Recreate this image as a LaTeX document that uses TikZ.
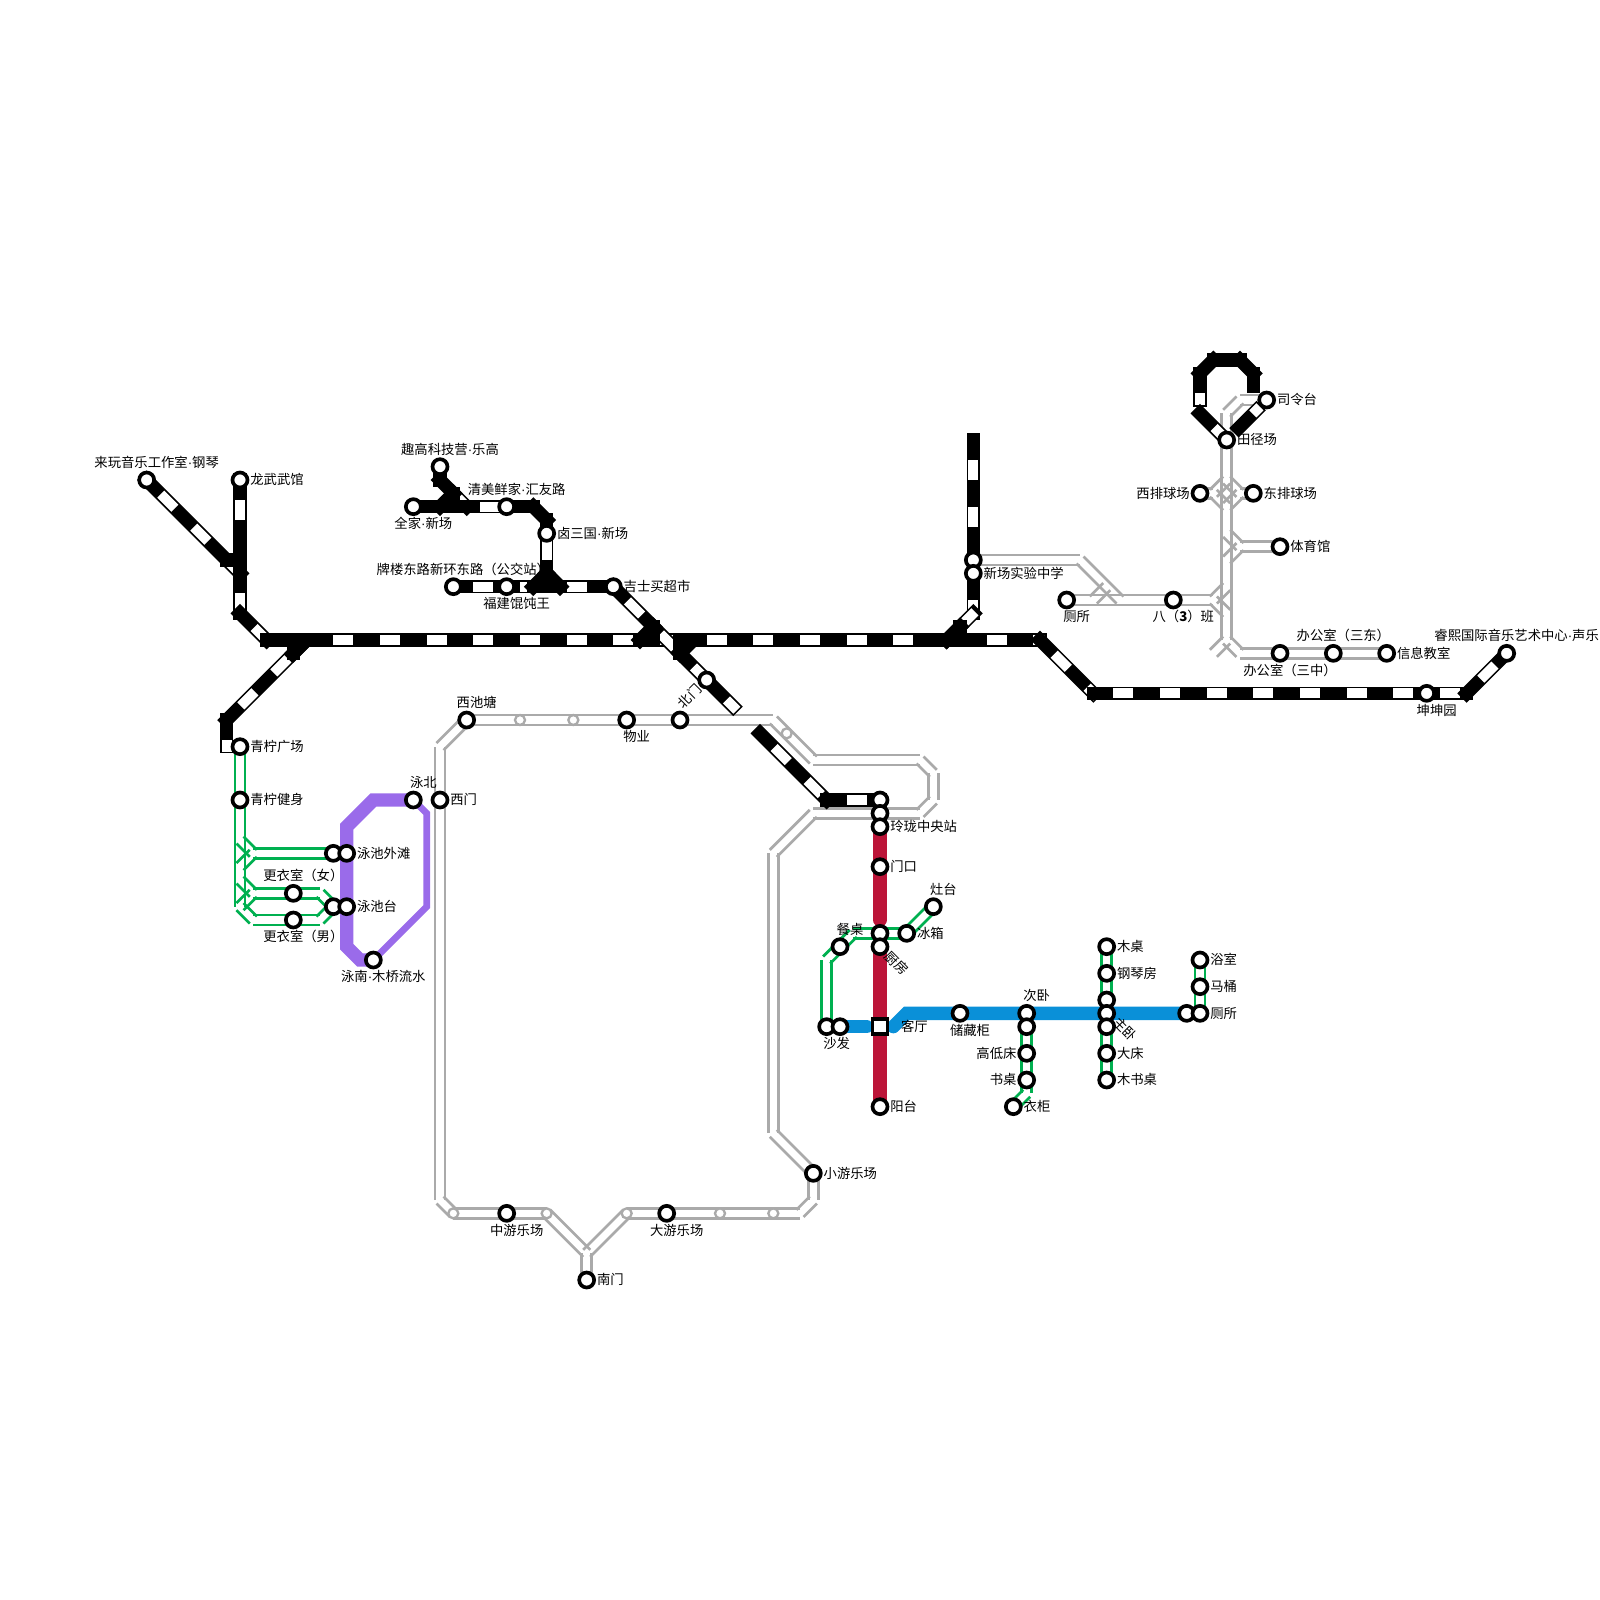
\documentclass[tikz,border=0pt]{standalone}
\usepackage{fontspec}
\setmainfont{Noto Sans CJK SC}
\newfontfamily\latinfont{Liberation Sans}
\newcommand{\middot}{{\latinfont ·}}
\usepackage{xcolor}
\usetikzlibrary{positioning,calc}
\pgfdeclarelayer{lines}
\pgfsetlayers{lines,main}
\definecolor{railgray}{HTML}{AAAAAA}
\definecolor{railgreen}{HTML}{00B050}
\definecolor{hallred}{HTML}{BC1438}
\definecolor{roomblue}{HTML}{0A90D8}
\definecolor{poolpurple}{HTML}{9A6BEA}
\newcommand{\rail}[3][railgray]{%
  \draw[wall=#1] ($(#2)!3.75pt!90:(#3)$) -- ($(#3)!3.75pt!-90:(#2)$);
  \draw[wall=#1] ($(#2)!3.75pt!-90:(#3)$) -- ($(#3)!3.75pt!90:(#2)$);}
\newcommand{\track}[2]{%
  \draw[blob] (#1) -- (#2);
  \draw[gaps] (#1) -- (#2);}

\begin{document}
\begin{tikzpicture}[x=10pt, y=-10pt,
  stn/.style={circle, draw=black, fill=white, line width=2.75pt, minimum size=11.25pt, inner sep=0pt},
  hub/.style={rectangle, draw=black, fill=white, line width=2.75pt, minimum size=11.25pt, inner sep=0pt},
  halt/.style={circle, draw=railgray, fill=white, line width=1.75pt, minimum size=7.5pt, inner sep=0pt},
  lbl/.style={inner sep=0pt, outer sep=0pt, text height=8.5pt, text depth=1.5pt, font=\normalsize},
  tr/.style={right=0.8pt of #1},
  lf/.style={left=0.65pt of #1},
  ab/.style={above=0.9pt of #1, xshift=7.5pt},
  bw/.style={below=0.9pt of #1, xshift=7.5pt},
  blob/.style={draw=black, line width=10pt, line cap=rect},
  gaps/.style={draw=white, line width=7.5pt, line cap=rect,
    dash pattern=on 7.5pt off 27.5pt, dash phase=16.25pt},
  wall/.style={draw=#1, line width=2pt},
  hall/.style={draw=hallred, line width=10pt, line cap=round},
  room/.style={draw=roomblue, line width=10pt, line cap=round},
  pool/.style={draw=poolpurple, line width=10pt, line cap=round, line join=miter},
  poolthin/.style={draw=poolpurple, line width=5pt, line cap=round, line join=miter}
]
  \useasboundingbox (0,0) rectangle (120,120);

  % Black line stations
  \node[stn] (lw) at (11,36) {};
  \node[stn] (lg) at (18,36) {};
  \node[stn] (qu) at (33,35) {};
  \node[stn] (qj) at (31,38) {};
  \node[stn] (qm) at (38,38) {};
  \node[stn] (ls) at (41,40) {};
  \node[stn] (pl) at (34,44) {};
  \node[stn] (fj) at (38,44) {};
  \node[stn] (js) at (46,44) {};
  \node[stn] (bm) at (53,51) {};
  \node[stn] (xc) at (73,42) {};
  \node[stn] (xs) at (73,43) {};
  \node[stn] (kk) at (107,52) {};
  \node[stn] (rx) at (113,49) {};
  \node[stn] (l0) at (66,60) {};

  % Grey line stations
  \node[halt] (h1) at (39,54) {};
  \node[halt] (h2) at (43,54) {};
  \node[halt] (h3) at (59,55) {};
  \node[halt] (h4) at (58,91) {};
  \node[halt] (h5) at (54,91) {};
  \node[halt] (h6) at (47,91) {};
  \node[halt] (h7) at (41,91) {};
  \node[halt] (h8) at (34,91) {};
  \node[stn] (xt) at (35,54) {};
  \node[stn] (wy) at (47,54) {};
  \node[stn] (bg) at (51,54) {};
  \node[stn] (xm) at (33,60) {};
  \node[stn] (xy) at (61,88) {};
  \node[stn] (dy) at (50,91) {};
  \node[stn] (zy) at (38,91) {};
  \node[stn] (nm) at (44,96) {};
  \node[stn] (l1) at (66,61) {};
  \node[stn] (tj) at (92,33) {};
  \node[stn] (sl) at (95,30) {};
  \node[stn] (xp) at (90,37) {};
  \node[stn] (dp) at (94,37) {};
  \node[stn] (ty) at (96,41) {};
  \node[stn] (cs) at (80,45) {};
  \node[stn] (bb) at (88,45) {};
  \node[stn] (bz) at (96,49) {};
  \node[stn] (bd) at (100,49) {};
  \node[stn] (xx) at (104,49) {};

  % Green line stations
  \node[stn] (qg) at (18,56) {};
  \node[stn] (qs) at (18,60) {};
  \node[stn] (wa) at (25,64) {};
  \node[stn] (ta) at (25,68) {};
  \node[stn] (gn) at (22,67) {};
  \node[stn] (gb) at (22,69) {};
  \node[stn] (cz) at (63,71) {};
  \node[stn] (sa) at (62,77) {};
  \node[stn] (bx) at (68,70) {};
  \node[stn] (zt) at (70,68) {};
  \node[stn] (gd) at (77,79) {};
  \node[stn] (sz) at (77,81) {};
  \node[stn] (yg) at (76,83) {};
  \node[stn] (mz) at (83,71) {};
  \node[stn] (gq) at (83,73) {};
  \node[stn] (m3) at (83,75) {};
  \node[stn] (dc) at (83,79) {};
  \node[stn] (ms) at (83,81) {};
  \node[stn] (ys) at (90,72) {};
  \node[stn] (mt) at (90,74) {};

  % Pool, hall and room stations
  \node[stn] (yb) at (31,60) {};
  \node[stn] (yw) at (26,64) {};
  \node[stn] (yt) at (26,68) {};
  \node[stn] (yn) at (28,72) {};
  \node[stn] (lz) at (66,62) {};
  \node[stn] (mk) at (66,65) {};
  \node[stn] (ct) at (66,70) {};
  \node[stn] (cf) at (66,71) {};
  \node[stn] (yt2) at (66,83) {};
  \node[stn] (sf) at (63,77) {};
  \node[hub] (kt) at (66,77) {};
  \node[stn] (cc) at (72,76) {};
  \node[stn] (cw) at (77,76) {};
  \node[stn] (c2) at (77,77) {};
  \node[stn] (zw) at (83,76) {};
  \node[stn] (zb) at (83,77) {};
  \node[stn] (c3) at (89,76) {};
  \node[stn] (wc) at (90,76) {};

  % Labels
  \node[lbl, ab=lw] (lwt) {来玩音乐工作室\middot 钢琴};
  \node[lbl, tr=lg] (lgt) {龙武武馆};
  \node[lbl, ab=qu] (qut) {趣高科技营\middot 乐高};
  \node[lbl, bw=qj] (qjt) {全家\middot 新场};
  \node[lbl, ab=qm] (qmt) {清美鲜家\middot 汇友路};
  \node[lbl, tr=ls] (lst) {卤三国\middot 新场};
  \node[lbl, ab=pl] (plt) {牌楼东路新环东路（公交站）};
  \node[lbl, bw=fj] (fjt) {福建馄饨王};
  \node[lbl, tr=js] (jst) {吉士买超市};
  \node[lbl, rotate=45] (bgt) at (51.75,52.25) {北门};
  \node[lbl, tr=xs] (xst) {新场实验中学};
  \node[lbl, bw=kk] (kkt) {坤坤园};
  \node[lbl, ab=rx] (rxt) {睿熙国际音乐艺术中心\middot 声乐};
  \node[lbl, ab=xt] (xtt) {西池塘};
  \node[lbl, bw=wy] (wyt) {物业};
  \node[lbl, tr=xm] (xmt) {西门};
  \node[lbl, tr=xy] (xyt) {小游乐场};
  \node[lbl, bw=dy] (dyt) {大游乐场};
  \node[lbl, bw=zy] (zyt) {中游乐场};
  \node[lbl, tr=nm] (nmt) {南门};
  \node[lbl, tr=tj] (tjt) {田径场};
  \node[lbl, tr=sl] (slt) {司令台};
  \node[lbl, lf=xp] (xpt) {西排球场};
  \node[lbl, tr=dp] (dpt) {东排球场};
  \node[lbl, tr=ty] (tyt) {体育馆};
  \node[lbl, bw=cs] (cst) {厕所};
  \node[lbl, bw=bb] (bbt) {八（\textbf{3}）班};
  \node[lbl, bw=bz] (bzt) {办公室（三中）};
  \node[lbl, ab=bd] (bdt) {办公室（三东）};
  \node[lbl, tr=xx] (xxt) {信息教室};
  \node[lbl, tr=qg] (qgt) {青柠广场};
  \node[lbl, tr=qs] (qst) {青柠健身};
  \node[lbl, ab=gn] (gnt) {更衣室（女）};
  \node[lbl, bw=gb] (gbt) {更衣室（男）};
  \node[lbl, ab=yb] (ybt) {泳北};
  \node[lbl, tr=yw] (ywt) {泳池外滩};
  \node[lbl, tr=yt] (ytt) {泳池台};
  \node[lbl, bw=yn] (ynt) {泳南\middot 木桥流水};
  \node[lbl, tr=lz] (lzt) {玲珑中央站};
  \node[lbl, tr=mk] (mkt) {门口};
  \node[lbl, ab=cz] (czt) {餐桌};
  \node[lbl, tr=bx] (bxt) {冰箱};
  \node[lbl, ab=zt] (ztt) {灶台};
  \node[lbl, rotate=-45, anchor=west] (cft) at (66.54,71.54) {厨房};
  \node[lbl, bw=sa] (sat) {沙发};
  \node[lbl, right=8.75pt of kt] (ktt) {客厅};
  \node[lbl, tr=yt2] (yt2t) {阳台};
  \node[lbl, bw=cc] (cct) {储藏柜};
  \node[lbl, ab=cw] (cwt) {次卧};
  \node[lbl, lf=gd] (gdt) {高低床};
  \node[lbl, lf=sz] (szt) {书桌};
  \node[lbl, tr=yg] (ygt) {衣柜};
  \node[lbl, tr=mz] (mzt) {木桌};
  \node[lbl, tr=gq] (gqt) {钢琴房};
  \node[lbl, rotate=-45, anchor=west] (zbt) at (83.67,76.49) {主卧};
  \node[lbl, tr=dc] (dct) {大床};
  \node[lbl, tr=ms] (mst) {木书桌};
  \node[lbl, tr=ys] (yst) {浴室};
  \node[lbl, tr=mt] (mtt) {马桶};
  \node[lbl, tr=wc] (wct) {厕所};

  % Bends
  \coordinate (k0) at (22.5,48.5);
  \coordinate (k1) at (18,43);
  \coordinate (k2) at (18,46);
  \coordinate (k3) at (20,48);
  \coordinate (k4) at (78,48);
  \coordinate (k5) at (82,52);
  \coordinate (k6) at (110,52);
  \coordinate (k7) at (23,48);
  \coordinate (k8) at (17,54);
  \coordinate (k9) at (17,56);
  \coordinate (t1) at (33,36);
  \coordinate (t2) at (35,38);
  \coordinate (t3) at (40,38);
  \coordinate (t4) at (41,39);
  \coordinate (t5) at (41,44);
  \coordinate (t6) at (55,53);
  \coordinate (t7) at (57,55);
  \coordinate (t8) at (62,60);
  \coordinate (n1) at (73,33);
  \coordinate (n2) at (73,46);
  \coordinate (n3) at (71,48);
  \coordinate (r1) at (90,28);
  \coordinate (r2) at (90,30);
  \coordinate (r3) at (90,31);
  \coordinate (r4) at (91.33,32.33);
  \coordinate (r5) at (91,27);
  \coordinate (r6) at (93,27);
  \coordinate (r7) at (94,28);
  \coordinate (r8) at (94,29);
  \coordinate (r9) at (92.9,32.1);
  \coordinate (r0) at (94.23,30.77);
  % Blobs where the black lines meet
  \coordinate (j1) at (18,41);
  \coordinate (j2) at (18,42);
  \coordinate (j3) at (17,42);
  \coordinate (j4) at (22,48);
  \coordinate (j5) at (22,49);
  \coordinate (j6) at (21,48);
  \coordinate (j7) at (33,38);
  \coordinate (j8) at (34,37);
  \coordinate (j9) at (34,38);
  \coordinate (j10) at (39,38);
  \coordinate (j11) at (40,44);
  \coordinate (j12) at (41,43);
  \coordinate (j13) at (42,44);
  \coordinate (j14) at (48,48);
  \coordinate (j15) at (49,47);
  \coordinate (j16) at (49,48);
  \coordinate (j17) at (51,48);
  \coordinate (j18) at (51,49);
  \coordinate (j19) at (51.5,48.5);
  \coordinate (j20) at (72,47);
  \coordinate (j21) at (72,48);
  % Grey bends
  \coordinate (g1) at (58,54);
  \coordinate (g2) at (61,57);
  \coordinate (g3) at (69,57);
  \coordinate (g4) at (70,58);
  \coordinate (g5) at (70,60);
  \coordinate (g6) at (69,61);
  \coordinate (g7) at (61,61);
  \coordinate (g8) at (58,64);
  \coordinate (g9) at (58,85);
  \coordinate (g10) at (61,90);
  \coordinate (g11) at (60,91);
  \coordinate (g12) at (44,94);
  \coordinate (g13) at (33,90);
  \coordinate (g14) at (33,56);
  \coordinate (e1) at (92,31);
  \coordinate (e2) at (93,30);
  \coordinate (e3) at (92,48);
  \coordinate (e4) at (93,49);
  \coordinate (e5) at (91,49);
  \coordinate (e6) at (91,37);
  \coordinate (e7) at (93,37);
  \coordinate (e8) at (92,36);
  \coordinate (e9) at (92,38);
  \coordinate (e10) at (92,40);
  \coordinate (e11) at (92,42);
  \coordinate (e12) at (93,41);
  \coordinate (e13) at (91,45);
  \coordinate (e14) at (92,44);
  \coordinate (e15) at (92,46);
  \coordinate (e16) at (81,42);
  \coordinate (e17) at (84,45);
  \coordinate (e18) at (83,44);
  \coordinate (e19) at (82,45);
  % Green bends
  \coordinate (v1) at (18,68);
  \coordinate (v2) at (18,63);
  \coordinate (v3) at (19,64);
  \coordinate (v4) at (18,65);
  \coordinate (v5) at (18,66);
  \coordinate (v6) at (19,67);
  \coordinate (v7) at (24,67);
  \coordinate (v8) at (19,69);
  \coordinate (v9) at (24,69);
  \coordinate (v10) at (62,72);
  \coordinate (v11) at (64,70);
  \coordinate (v12) at (77,82);
  % Pool, hall and room bends
  \coordinate (p1) at (32,61);
  \coordinate (p2) at (32,68);
  \coordinate (p3) at (28,60);
  \coordinate (p4) at (26,62);
  \coordinate (p5) at (26,71);
  \coordinate (p6) at (27,72);
  \coordinate (c1) at (66,69);
  \coordinate (c4) at (65,77);
  \coordinate (c5) at (67,77);
  \coordinate (c6) at (68,76);

  \begin{pgfonlayer}{lines}
    % Double lines
    \rail{xt.center}{g1}
    \rail{g1}{g2}
    \rail{g2}{g3}
    \rail{g3}{g4}
    \rail{g4}{g5}
    \rail{g5}{g6}
    \rail{g6}{g7}
    \rail{g7}{g8}
    \rail{g8}{g9}
    \rail{g9}{xy.center}
    \rail{xy.center}{g10}
    \rail{g10}{g11}
    \rail{g11}{h6.center}
    \rail{h6.center}{g12}
    \rail{h7.center}{g12}
    \rail{g12}{nm.center}
    \rail{h7.center}{h8.center}
    \rail{h8.center}{g13}
    \rail{g13}{g14}
    \rail{g14}{xt.center}

    \rail{sl.center}{e2}
    \rail{e2}{e1}
    \rail{e1}{e3}
    \rail{e3}{e5}
    \rail{e3}{e4}
    \rail{e4}{xx.center}
    \rail{xp.center}{e6}
    \rail{e6}{e8}
    \rail{e6}{e9}
    \rail{dp.center}{e7}
    \rail{e7}{e8}
    \rail{e7}{e9}
    \rail{ty.center}{e12}
    \rail{e12}{e10}
    \rail{e12}{e11}
    \rail{cs.center}{e13}
    \rail{e13}{e14}
    \rail{e13}{e15}
    \rail{xc.center}{e16}
    \rail{e16}{e17}
    \rail{e18}{e19}

    \rail[railgreen]{qg.center}{v1}
    \rail[railgreen]{wa.center}{v3}
    \rail[railgreen]{v3}{v2}
    \rail[railgreen]{v3}{v4}
    \rail[railgreen]{v5}{v6}
    \rail[railgreen]{v1}{v6}
    \rail[railgreen]{v6}{v7}
    \rail[railgreen]{v7}{ta.center}
    \rail[railgreen]{v1}{v8}
    \rail[railgreen]{v8}{v9}
    \rail[railgreen]{v9}{ta.center}
    \rail[railgreen]{zt.center}{bx.center}
    \rail[railgreen]{bx.center}{v11}
    \rail[railgreen]{v11}{v10}
    \rail[railgreen]{v10}{sa.center}
    \rail[railgreen]{c2.center}{v12}
    \rail[railgreen]{v12}{yg.center}
    \rail[railgreen]{mz.center}{ms.center}
    \rail[railgreen]{ys.center}{wc.center}

    % Black lines
    \track{lw.center}{k1}
    \track{lg.center}{k2}
    \track{k2}{k3}
    \track{k3}{k4}
    \track{k4}{k5}
    \track{k5}{k6}
    \track{k6}{rx.center}
    \track{k8}{k0}
    \track{k8}{k9}
    \track{qu.center}{t1}
    \track{t1}{t2}
    \track{qj.center}{t3}
    \track{t3}{t4}
    \track{t4}{t5}
    \track{pl.center}{js.center}
    \track{js.center}{t6}
    \track{t7}{t8}
    \track{t8}{l0.center}
    \track{n1}{n2}
    \track{n3}{n2}
    \track{r1}{r2}
    \track{r3}{r4}
    \track{r9}{r0}
    \draw[blob] (r1) -- (r5);
    \draw[blob] (r5) -- (r6);
    \draw[blob] (r6) -- (r7);
    \draw[blob] (r7) -- (r8);
    \draw[blob] (j1) -- (j2);
    \draw[blob] (j3) -- (j2);
    \draw[blob] (j6) -- (k7);
    \draw[blob] (j4) -- (j5);
    \draw[blob] (j5) -- (k0);
    \draw[blob] (j7) -- (j8);
    \draw[blob] (j8) -- (j9);
    \draw[blob] (j7) -- (j9);
    \draw[blob] (j10) -- (t3);
    \draw[blob] (j11) -- (j12);
    \draw[blob] (j12) -- (j13);
    \draw[blob] (j11) -- (j13);
    \draw[blob] (j14) -- (j15);
    \draw[blob] (j15) -- (j16);
    \draw[blob] (j14) -- (j16);
    \draw[blob] (j17) -- (j18);
    \draw[blob] (j19) -- (j18);
    \draw[blob] (n3) -- (j20);
    \draw[blob] (j20) -- (j21);
    \draw[blob] (n3) -- (j21);

    % Pool line
    \draw[poolthin] (yb.center) -- (p1) -- (p2) -- (yn.center);
    \draw[pool] (yb.center) -- (p3) -- (p4) -- (p5) -- (p6) -- (yn.center);

    % Hall and rooms
    \draw[hall] (lz.center) -- (c1);
    \draw[hall] (cf.center) -- (yt2.center);
    \draw[room] (sf.center) -- (c4);
    \draw[room] (c5) -- (c6) -- (c3.center);
  \end{pgfonlayer}
\end{tikzpicture}
\end{document}
